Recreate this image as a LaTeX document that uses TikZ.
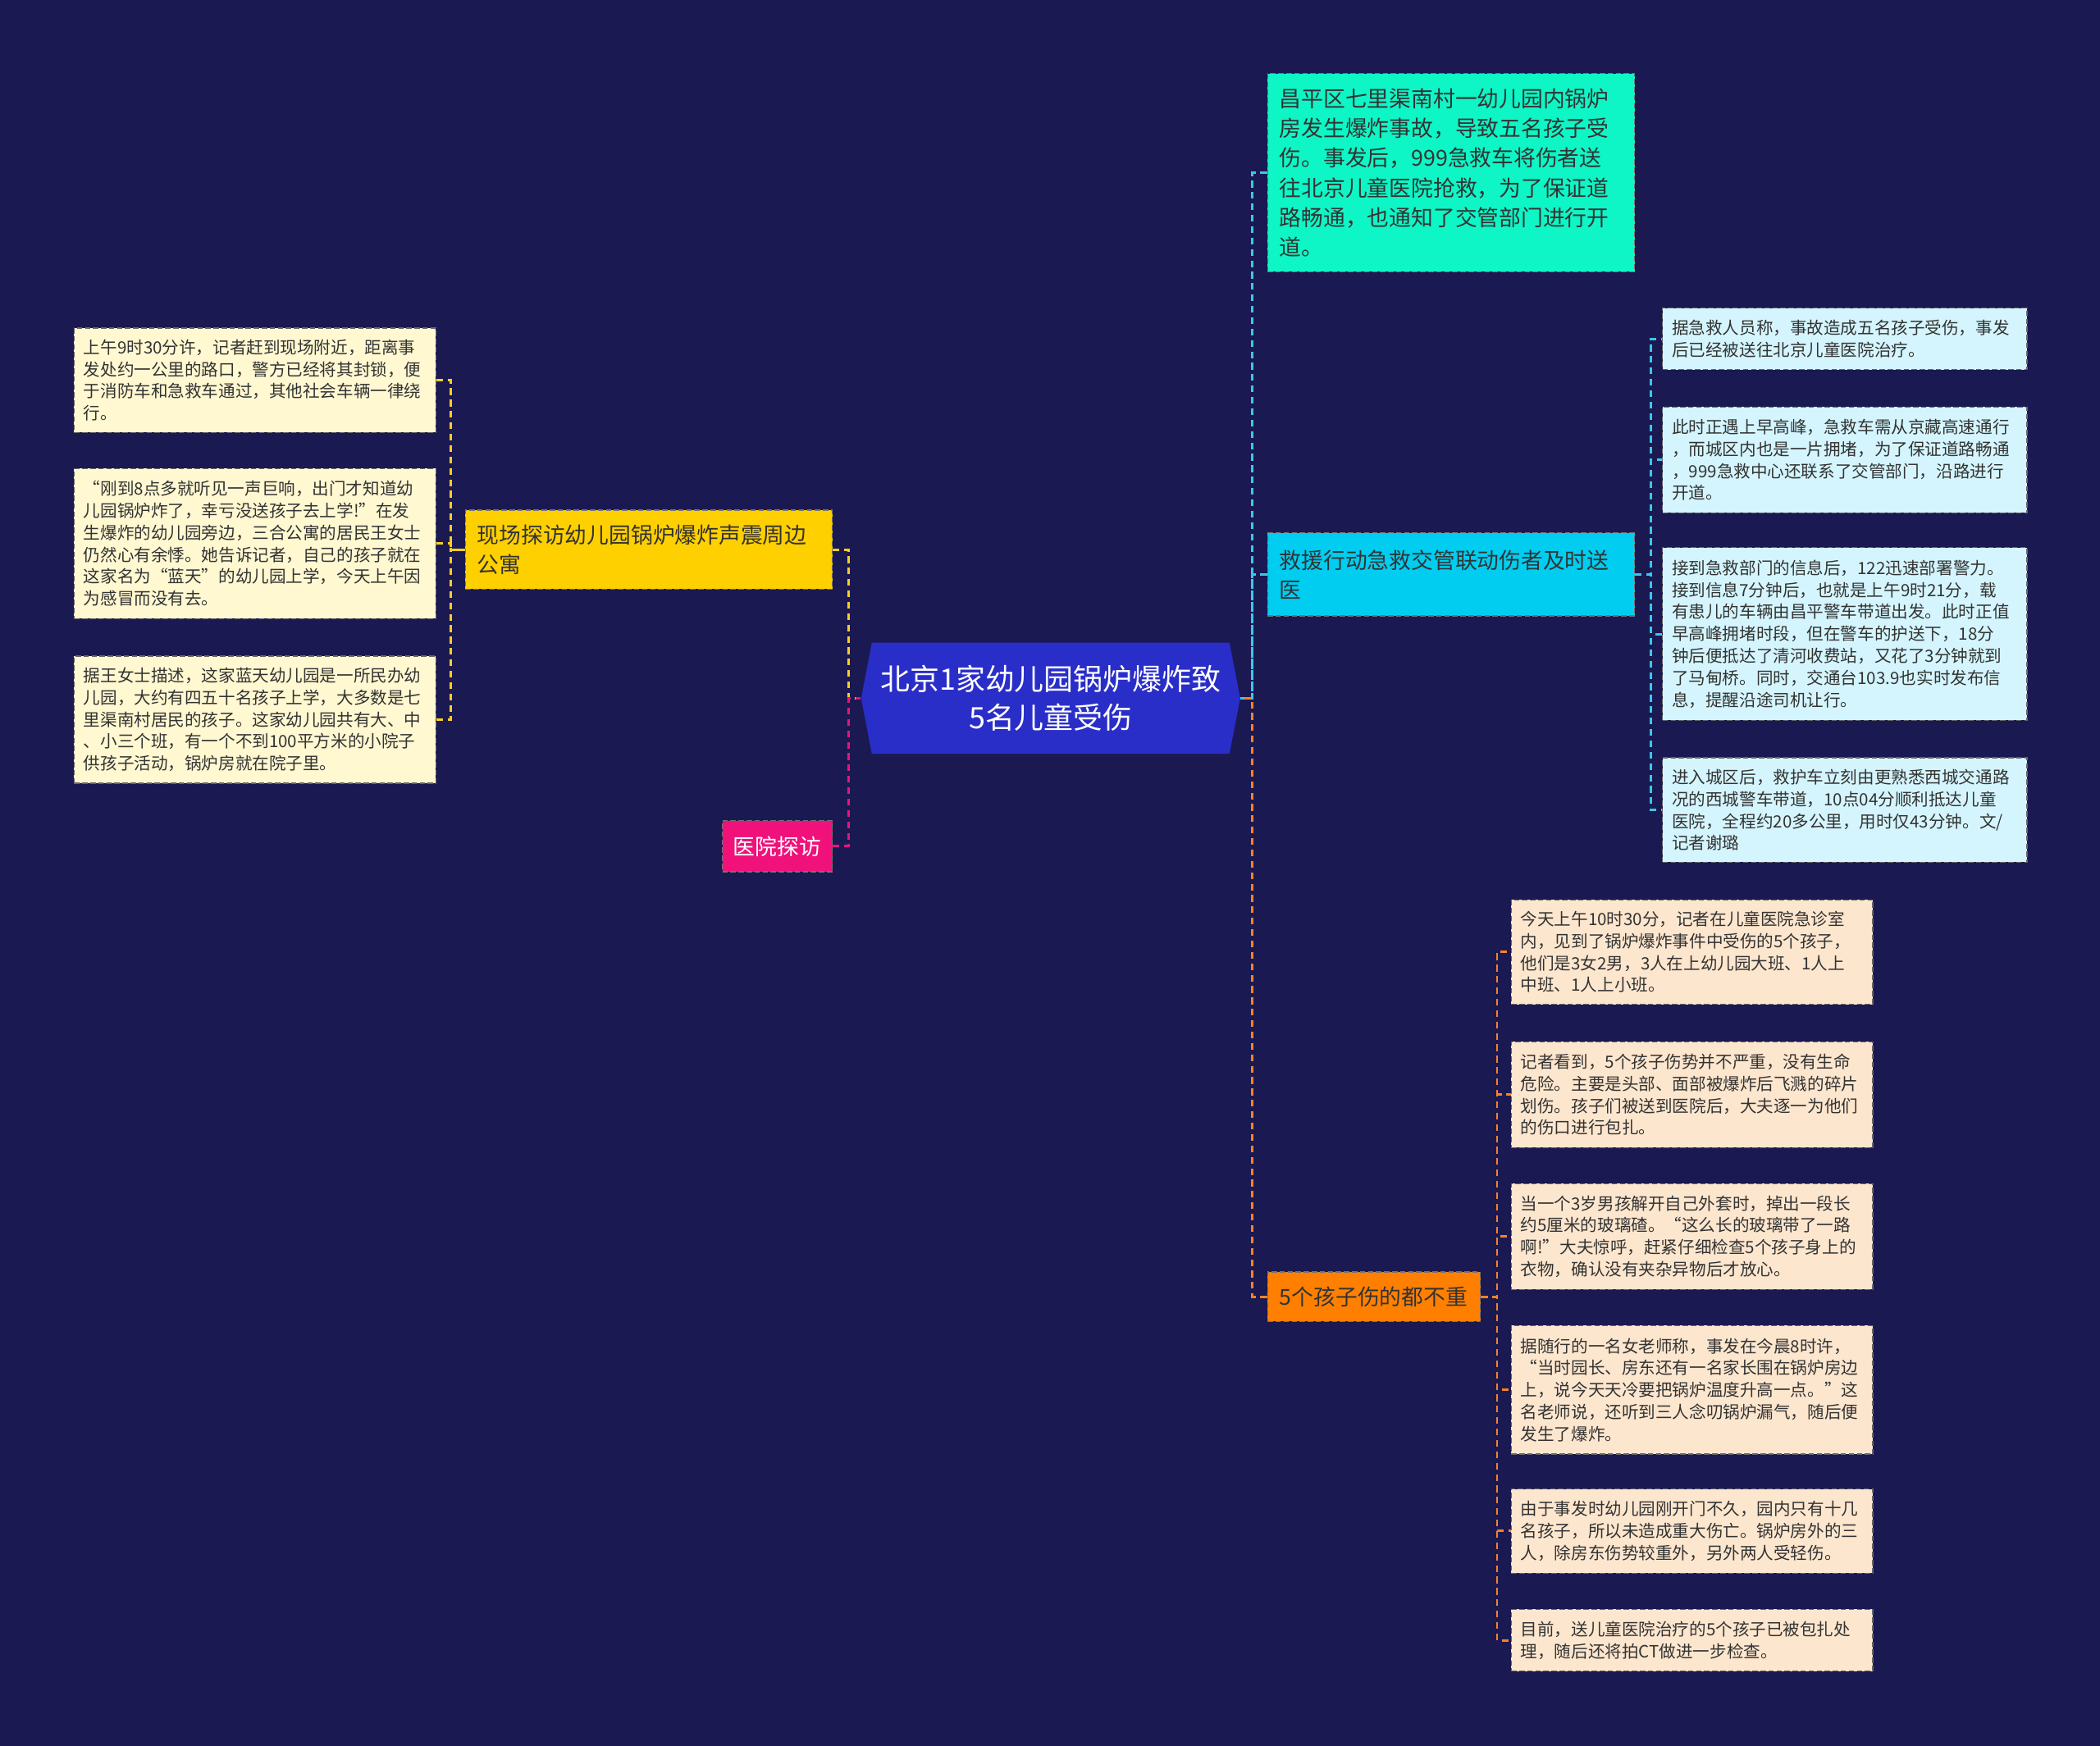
\documentclass[tikz,border=0pt]{standalone}
\usepackage{fontspec}
\setmainfont{Noto Sans CJK SC}
\definecolor{bgnavy}{RGB}{27,25,82}
\definecolor{hubblue}{RGB}{42,46,200}
\definecolor{yelbox}{RGB}{255,208,0}
\definecolor{pinkbox}{RGB}{240,18,122}
\definecolor{mintbox}{RGB}{14,245,198}
\definecolor{cyanbox}{RGB}{0,205,240}
\definecolor{orgbox}{RGB}{255,128,0}
\definecolor{creamY}{RGB}{255,248,209}
\definecolor{creamB}{RGB}{212,245,253}
\definecolor{creamO}{RGB}{253,230,206}
\definecolor{linkY}{RGB}{250,205,40}
\definecolor{linkP}{RGB}{230,20,125}
\definecolor{linkC}{RGB}{60,200,230}
\definecolor{linkO}{RGB}{245,130,40}
\begin{document}
\begin{tikzpicture}[x=1pt,y=-1pt,
    leaf/.style={draw=black!60,dash pattern=on 4pt off 2pt,line width=.8pt,anchor=west,align=left,
      inner xsep=7pt,inner ysep=0pt,text width=256pt,text=black!80,font=\fontsize{12.6}{16.4}\selectfont},
    topic/.style={draw=black!55,dash pattern=on 4pt off 2pt,line width=.8pt,anchor=west,align=left,
      inner xsep=9pt,inner ysep=0pt,text width=256pt,text=black!80,font=\fontsize{16.4}{22.2}\selectfont},
    link/.style={dash pattern=on 5pt off 3.5pt,line width=1.8pt}]
  \fill[bgnavy] (0,0) rectangle (1568,1304);
  \useasboundingbox (0,0) rectangle (1568,1304);
  \fill[hubblue] (643,521.5) -- (651,480) -- (918,480) -- (926,521.5) -- (918,563) -- (651,563) -- cycle;
  \node[align=center,minimum width=283pt,minimum height=83pt,inner sep=0pt,text=white,
    font=\fontsize{22}{29}\selectfont] (c) at (784.5,521.5) {北京1家幼儿园锅炉爆炸致\\5名儿童受伤};

  \node[topic,fill=yelbox,minimum height=59pt] (y) at (347,410.5) {现场探访幼儿园锅炉爆炸声震周边\\公寓};
  \node[topic,fill=pinkbox,text=white,text width=66pt,inner xsep=8pt,minimum height=38pt] (p) at (539,632) {医院探访};
  \node[topic,fill=mintbox,minimum height=148pt] (r1) at (946,129) {昌平区七里渠南村一幼儿园内锅炉\\房发生爆炸事故，导致五名孩子受\\伤。事发后，999急救车将伤者送\\往北京儿童医院抢救，为了保证道\\路畅通，也通知了交管部门进行开\\道。};
  \node[topic,fill=cyanbox,minimum height=62pt] (r2) at (946,429) {救援行动急救交管联动伤者及时送\\医};
  \node[topic,fill=orgbox,text width=141pt,minimum height=37pt] (r3) at (946,968.5) {5个孩子伤的都不重};

  \node[leaf,fill=creamY,minimum height=78pt] (l1) at (55,284) {上午9时30分许，记者赶到现场附近，距离事\\发处约一公里的路口，警方已经将其封锁，便\\于消防车和急救车通过，其他社会车辆一律绕\\行。};
  \node[leaf,fill=creamY,minimum height=112pt] (l2) at (55,406) {“刚到8点多就听见一声巨响，出门才知道幼\\儿园锅炉炸了，幸亏没送孩子去上学!”在发\\生爆炸的幼儿园旁边，三合公寓的居民王女士\\仍然心有余悸。她告诉记者，自己的孩子就在\\这家名为“蓝天”的幼儿园上学，今天上午因\\为感冒而没有去。};
  \node[leaf,fill=creamY,minimum height=95pt] (l3) at (55,537.5) {据王女士描述，这家蓝天幼儿园是一所民办幼\\儿园，大约有四五十名孩子上学，大多数是七\\里渠南村居民的孩子。这家幼儿园共有大、中\\、小三个班，有一个不到100平方米的小院子\\供孩子活动，锅炉房就在院子里。};

  \node[leaf,fill=creamB,text width=258pt,minimum height=46pt] (b1) at (1241,253) {据急救人员称，事故造成五名孩子受伤，事发\\后已经被送往北京儿童医院治疗。};
  \node[leaf,fill=creamB,text width=258pt,minimum height=79pt] (b2) at (1241,343.5) {此时正遇上早高峰，急救车需从京藏高速通行\\，而城区内也是一片拥堵，为了保证道路畅通\\，999急救中心还联系了交管部门，沿路进行\\开道。};
  \node[leaf,fill=creamB,text width=258pt,minimum height=129pt] (b3) at (1241,473.5) {接到急救部门的信息后，122迅速部署警力。\\接到信息7分钟后，也就是上午9时21分，载\\有患儿的车辆由昌平警车带道出发。此时正值\\早高峰拥堵时段，但在警车的护送下，18分\\钟后便抵达了清河收费站，又花了3分钟就到\\了马甸桥。同时，交通台103.9也实时发布信\\息，提醒沿途司机让行。};
  \node[leaf,fill=creamB,text width=258pt,minimum height=78pt] (b4) at (1241,605) {进入城区后，救护车立刻由更熟悉西城交通路\\况的西城警车带道，10点04分顺利抵达儿童\\医院，全程约20多公里，用时仅43分钟。文/\\记者谢璐};

  \node[leaf,fill=creamO,minimum height=78pt] (o1) at (1128,711) {今天上午10时30分，记者在儿童医院急诊室\\内，见到了锅炉爆炸事件中受伤的5个孩子，\\他们是3女2男，3人在上幼儿园大班、1人上\\中班、1人上小班。};
  \node[leaf,fill=creamO,minimum height=79pt] (o2) at (1128,817.5) {记者看到，5个孩子伤势并不严重，没有生命\\危险。主要是头部、面部被爆炸后飞溅的碎片\\划伤。孩子们被送到医院后，大夫逐一为他们\\的伤口进行包扎。};
  \node[leaf,fill=creamO,minimum height=79pt] (o3) at (1128,923.5) {当一个3岁男孩解开自己外套时，掉出一段长\\约5厘米的玻璃碴。“这么长的玻璃带了一路\\啊!”大夫惊呼，赶紧仔细检查5个孩子身上的\\衣物，确认没有夹杂异物后才放心。};
  \node[leaf,fill=creamO,minimum height=96pt] (o4) at (1128,1038) {据随行的一名女老师称，事发在今晨8时许，\\“当时园长、房东还有一名家长围在锅炉房边\\上，说今天天冷要把锅炉温度升高一点。”这\\名老师说，还听到三人念叨锅炉漏气，随后便\\发生了爆炸。};
  \node[leaf,fill=creamO,minimum height=63pt] (o5) at (1128,1143.5) {由于事发时幼儿园刚开门不久，园内只有十几\\名孩子，所以未造成重大伤亡。锅炉房外的三\\人，除房东伤势较重外，另外两人受轻伤。};
  \node[leaf,fill=creamO,minimum height=46pt] (o6) at (1128,1225) {目前，送儿童医院治疗的5个孩子已被包扎处\\理，随后还将拍CT做进一步检查。};

  \draw[link,linkY] (y.east) -- ++(12,0) |- (c.west);
  \draw[link,linkP] (p.east) -- ++(12,0) |- (c.west);
  \draw[link,linkC] (r1.west) -- ++(-11,0) |- (c.east);
  \draw[link,linkC] (r2.west) -- ++(-11,0) |- (c.east);
  \draw[link,linkO] (r3.west) -- ++(-11,0) |- (c.east);
  \foreach \n in {l1,l2,l3} \draw[link,linkY] (\n.east) -- ++(11,0) |- (y.west);
  \foreach \n in {b1,b2,b3,b4} \draw[link,linkC] (r2.east) -- ++(12,0) |- (\n.west);
  \foreach \n in {o1,o2,o3,o4,o5,o6} \draw[link,linkO] (r3.east) -- ++(12,0) |- (\n.west);
\end{tikzpicture}
\end{document}
